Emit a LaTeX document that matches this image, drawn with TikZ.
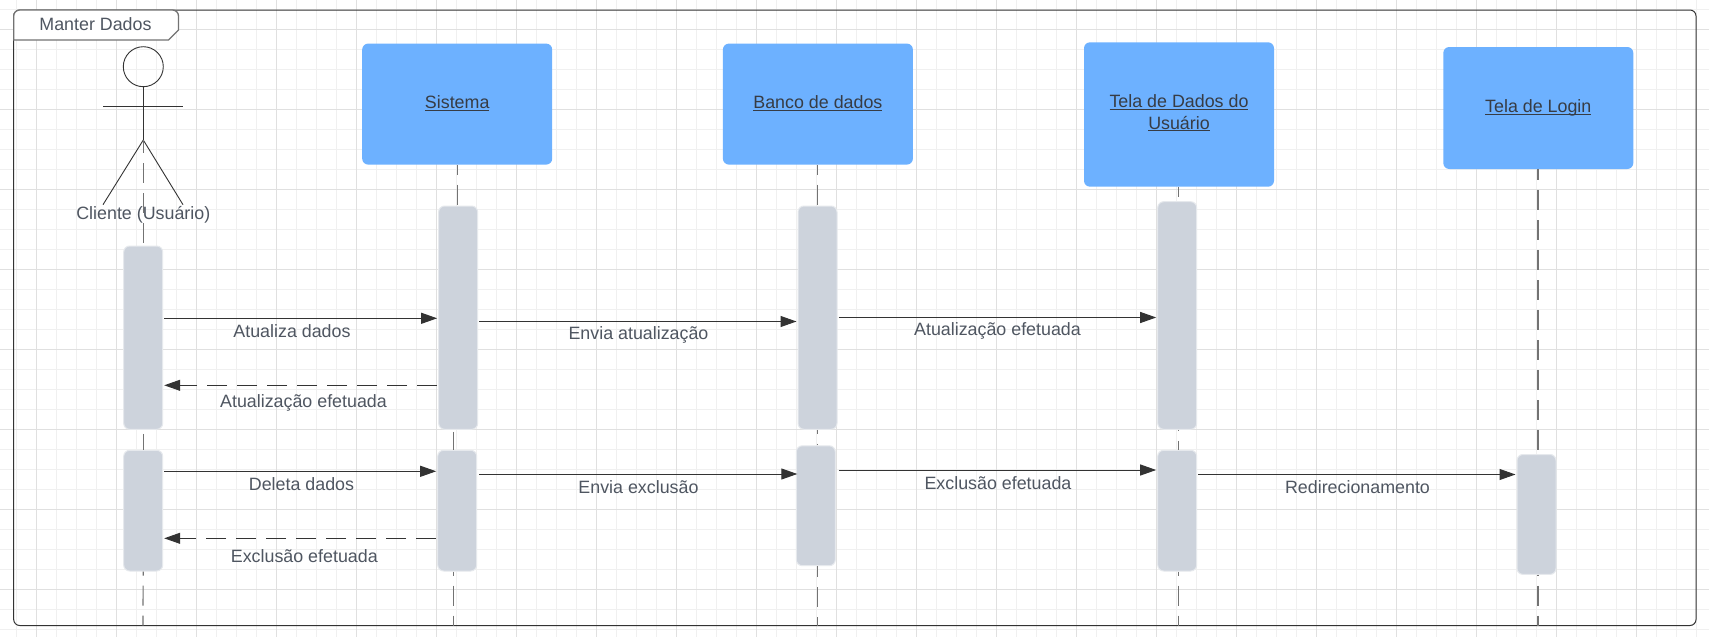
\documentclass[tikz,border=0pt]{standalone}
\usepackage{fontspec}
\usetikzlibrary{arrows.meta}
\setmainfont{Liberation Sans}
\newcommand{\utext}[1]{\underline{\smash{#1}}}
\definecolor{gridmajor}{HTML}{E0E0E0}
\definecolor{gridminor}{HTML}{F0F0F0}
\definecolor{boxblue}{HTML}{6DB1FF}
\definecolor{actgray}{HTML}{CDD3DC}
\definecolor{inkdark}{HTML}{333333}
\definecolor{labelgray}{HTML}{4F5661}
\tikzset{
	every node/.style={font=\fontsize{17.85}{21.5}\selectfont, inner sep=0pt},
	objbox/.style={fill=boxblue, rounded corners=6pt, minimum width=190pt, text=labelgray!70!black, align=center, text height=13pt, text depth=4pt},
	actbar/.style={fill=actgray, draw=actgray!50!white, line width=1pt, rounded corners=6pt, minimum width=39pt},
	msglabel/.style={text=labelgray},
	lifeline/.style={draw=black!55, line width=1.2pt, dash pattern=on 20pt off 10pt, dash phase=#1},
	lifeline/.default=0pt,
	msg/.style={draw=inkdark, line width=1pt, shorten >=1pt, shorten <=1pt, -{Triangle[length=16pt,width=11pt]}},
	reply/.style={msg, dash pattern=on 20pt off 10pt},
	stick/.style={draw=inkdark, line width=.9pt}
}

\begin{document}
\begin{tikzpicture}[x=1pt, y=-1pt]
	\useasboundingbox[fill=white] (0,0) rectangle (1709,637);
	
	\foreach \i in {0,...,85}
		\draw[gridminor, line width=1.2pt] ({16.67+20*\i},0) -- ({16.67+20*\i},637);
	\foreach \i in {0,...,31}
		\draw[gridminor, line width=1.2pt] (0,{9.33+20*\i}) -- (1709,{9.33+20*\i});
	\foreach \i in {0,...,21}
		\draw[gridmajor, line width=1.2pt] ({36.67+80*\i},0) -- ({36.67+80*\i},637);
	\foreach \i in {0,...,7}
		\draw[gridmajor, line width=1.2pt] (0,{29.33+80*\i}) -- (1709,{29.33+80*\i});
	
	\draw[inkdark, line width=1pt, rounded corners=6pt] (13.7,10) rectangle (1696,625.5);
	\draw[fill=white, draw=black!55, line width=1.3pt, rounded corners=6pt] (13.7,40) -- (13.7,10) -- (178.5,10) [sharp corners] -- (178.5,30) -- (168.5,40) -- cycle;
	\node[msglabel] (frametitle) at (95.5,24) {Manter Dados};
	
	\node[objbox, minimum height=121pt] (sistema) at (457.2,104.1) {\utext{Sistema}};
	\node[objbox, minimum height=121pt] (banco) at (817.9,104.1) {\utext{Banco de dados}};
	\node[objbox, minimum height=144.4pt] (teladados) at (1179,114.5) [text height=33pt] {\utext{Tela de Dados do}\\[0pt]\utext{Usuário}};
	\node[objbox, minimum height=122pt] (login) at (1538.3,108) {\utext{Tela de Login}};
	
	\node[actbar, minimum height=183.3pt] (clientea) at (143.2,337.65) {};
	\node[actbar, minimum height=120.7pt] (clienteb) at (143.2,510.65) {};
	\node[actbar, minimum height=223.3pt] (sistemaa) at (458.15,317.65) {};
	\node[actbar, minimum height=120.7pt] (sistemab) at (457.2,510.65) {};
	\node[actbar, minimum height=223.3pt] (bancoa) at (817.5,317.65) {};
	\node[actbar, minimum height=119.9pt] (bancob) at (815.8,505.75) {};
	\node[actbar, minimum height=227.6pt] (telaa) at (1177.2,315.5) {};
	\node[actbar, minimum height=120.7pt] (telab) at (1177.2,510.65) {};
	\node[actbar, minimum height=119.9pt] (logina) at (1536.5,514.45) {};
	
	\coordinate (fimcliente) at (143,625.5);
	\coordinate (fimsistema) at (453.7,625.5);
	\coordinate (fimbanco) at (817.7,625.5);
	\coordinate (fimtela) at (1178.3,625.5);
	\coordinate (fimlogin) at (1538,625.5);
	
	% pessoa
	\node[circle, draw=inkdark, line width=.9pt, minimum size=40pt] (cabeca) at (143.3,66.7) {};
	\coordinate (quadril) at (143.3,140);
	\coordinate (bracoe) at (103,106);
	\coordinate (bracod) at (183,106);
	\coordinate (pernae) at (103,204.7);
	\coordinate (pernad) at (183,204.7);
	\draw[stick] (cabeca) -- (quadril);
	\draw[stick] (bracoe) -- (bracod);
	\draw[stick] (pernae) -- (quadril) -- (pernad);
	\node[msglabel] (cliente) at (143.3,215) {Cliente (Usuário)};
	
	\draw[lifeline=7pt] (quadril) -- (quadril |- clientea.north);
	\draw[lifeline=26pt] (clientea.south) -- (clienteb.north);
	\draw[lifeline=16pt] (clienteb.south) -- (fimcliente);
	\draw[lifeline=10pt] (sistema.south) -- (sistema.south |- sistemaa.north);
	\draw[lifeline=28pt] (fimsistema |- sistemaa.south) -- (fimsistema |- sistemab.north);
	\draw[lifeline=16pt] (fimsistema |- sistemab.south) -- (fimsistema);
	\draw[lifeline=10pt] (fimbanco |- banco.south) -- (fimbanco |- bancoa.north);
	\draw[lifeline=16pt] (fimbanco |- bancoa.south) -- (fimbanco |- bancob.north);
	\draw[lifeline=9pt] (fimbanco |- bancob.south) -- (fimbanco);
	\draw[lifeline=10pt] (fimtela |- teladados.south) -- (fimtela |- telaa.north);
	\draw[lifeline=19pt] (fimtela |- telaa.south) -- (fimtela |- telab.north);
	\draw[lifeline=16pt] (fimtela |- telab.south) -- (fimtela);
	\draw[lifeline=9pt] (fimlogin |- login.south) -- (fimlogin |- logina.north);
	\draw[lifeline=19pt] (fimlogin |- logina.south) -- (fimlogin);
	
	\draw[msg] ([yshift=19.35pt]clientea.east) -- ([yshift=-.65pt]sistemaa.west);
	\node[msglabel] (m1) at (292,331) {Atualiza dados};
	\draw[reply] ([yshift=-67.65pt]sistemaa.west) -- ([yshift=-47.65pt]clientea.east);
	\node[msglabel] (m2) at (303.5,403) {Atualização efetuada};
	\draw[msg] ([yshift=39.35pt]clienteb.east) -- ([yshift=39.35pt]sistemab.west);
	\node[msglabel] (m3) at (301.5,483.7) {Deleta dados};
	\draw[reply] ([yshift=-27.65pt]sistemab.west) -- ([yshift=-27.65pt]clienteb.east);
	\node[msglabel] (m4) at (304.3,555.7) {Exclusão efetuada};
	\draw[msg] ([yshift=-3.85pt]sistemaa.east) -- ([yshift=-3.85pt]bancoa.west);
	\node[msglabel] (m5) at (638.5,335) {Envia atualização};
	\draw[msg] ([yshift=.15pt]bancoa.east) -- ([yshift=-2pt]telaa.west);
	\node[msglabel] (m6) at (997.5,331) {Atualização efetuada};
	\draw[msg, shorten <=2pt, shorten >=-1.5pt] ([yshift=36.65pt]sistemab.east) -- ([yshift=31.75pt]bancob.west);
	\node[msglabel] (m7) at (638.5,487) {Envia exclusão};
	\draw[msg, shorten <=3pt] ([yshift=35.75pt]bancob.east) -- ([yshift=40.65pt]telab.west);
	\node[msglabel] (m8) at (998,483) {Exclusão efetuada};
	\draw[msg] ([yshift=36.15pt]telab.east) -- ([yshift=39.95pt]logina.west);
	\node[msglabel] (m9) at (1357.5,487) {Redirecionamento};
\end{tikzpicture}
\end{document}
